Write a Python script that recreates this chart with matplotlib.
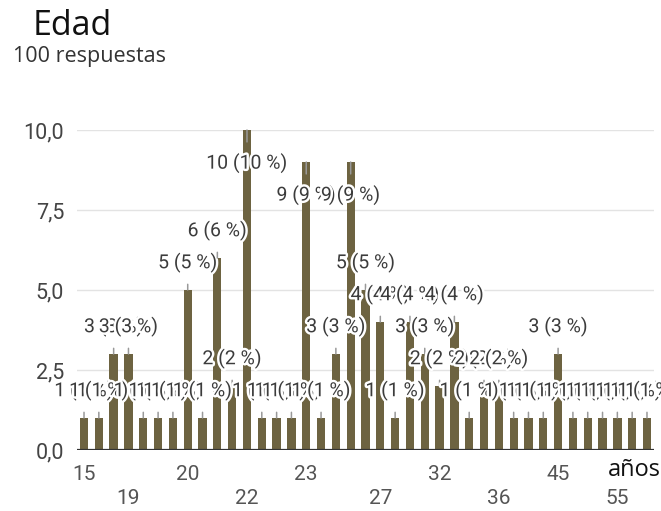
"""Edad: respuestas por edad (grafico de barras estilo formulario)"""

import matplotlib
matplotlib.use('Agg')
import matplotlib.pyplot as plt
from matplotlib import patheffects

# datos
conteos = [1, 1, 3, 3, 1, 1, 1, 5, 1, 6, 2, 10, 1, 1, 1, 9, 1, 3, 9, 5,
           4, 1, 4, 3, 2, 4, 1, 2, 2, 1, 1, 1, 3, 1, 1, 1, 1, 1, 1]
# solo se ven algunas etiquetas de categoria; el resto queda vacio
categorias = ['15', '', '', '19', '', '', '', '20', '', '', '', '22', '', '',
              '', '23', '', '', '', '', '27', '', '', '', '32', '', '', '',
              '36', '', '', '', '45', '', '', '', '55', '', '']
y_ticks = [0, 2.5, 5, 7.5, 10]
y_labels = ['0,0', '2,5', '5,0', '7,5', '10,0']
total = 100

BAR_COLOR = '#6d6341'

fig = plt.figure(figsize=(6.61, 5.11), dpi=100)
ax = fig.add_axes([0.1159, 0.1194, 0.8741, 0.6262])

x = range(len(conteos))
ax.bar(x, conteos, width=0.56, color=BAR_COLOR, zorder=2)
ax.set_xlim(-0.5, len(conteos) - 0.5); ax.set_ylim(0, 10)

# etiquetas de valor con linea guia
halo = [patheffects.withStroke(linewidth=3.5, foreground='white')]
for i, n in enumerate(conteos):
    texto = f'{n} ({n / total * 100:.0f} %)'
    dy = -24 if n >= 9 else 19.5
    ax.annotate(texto, xy=(i, n), xytext=(0, dy), textcoords='offset points',
                ha='center', va='center', fontsize=14, color='#3c3c3c',
                family='Roboto', path_effects=halo, zorder=4,
                annotation_clip=False,
                arrowprops=dict(arrowstyle='-', color='#999999', lw=1.1,
                                shrinkA=6.5, shrinkB=0))

# ejes
for s in ax.spines.values(): s.set_visible(False)
ax.axhline(0, color='#333333', lw=1.6, zorder=3)
ax.set_yticks(y_ticks, y_labels)
ax.yaxis.grid(True, color='#e3e3e3', lw=1, zorder=0)
ax.set_axisbelow(True)

pos = [i for i, c in enumerate(categorias) if c]
labs = [c if k % 2 == 0 else '\n' + c for k, c in enumerate(categorias[i] for i in pos)]
ax.set_xticks(pos, labs)
ax.tick_params(axis='x', length=0, pad=11, labelsize=15, labelcolor='#555555')
ax.tick_params(axis='y', length=0, pad=9, labelsize=15.5, labelcolor='#444444')
for t in ax.get_xticklabels() + ax.get_yticklabels():
    t.set_family('Roboto'); t.set_linespacing(1.3)

fig.text(1.0, 1 - 476 / 511, 'años', fontsize=17, color='#111111',
         family='Open Sans', ha='right', va='baseline')
fig.text(33 / 661, 1 - 35 / 511, 'Edad', fontsize=24.5, color='#111111',
         family='Open Sans', va='baseline')
fig.text(13 / 661, 1 - 62 / 511, '100 respuestas', fontsize=15.5, color='#333333',
         family='Open Sans', va='baseline')

fig.savefig('out.png', dpi=100)
